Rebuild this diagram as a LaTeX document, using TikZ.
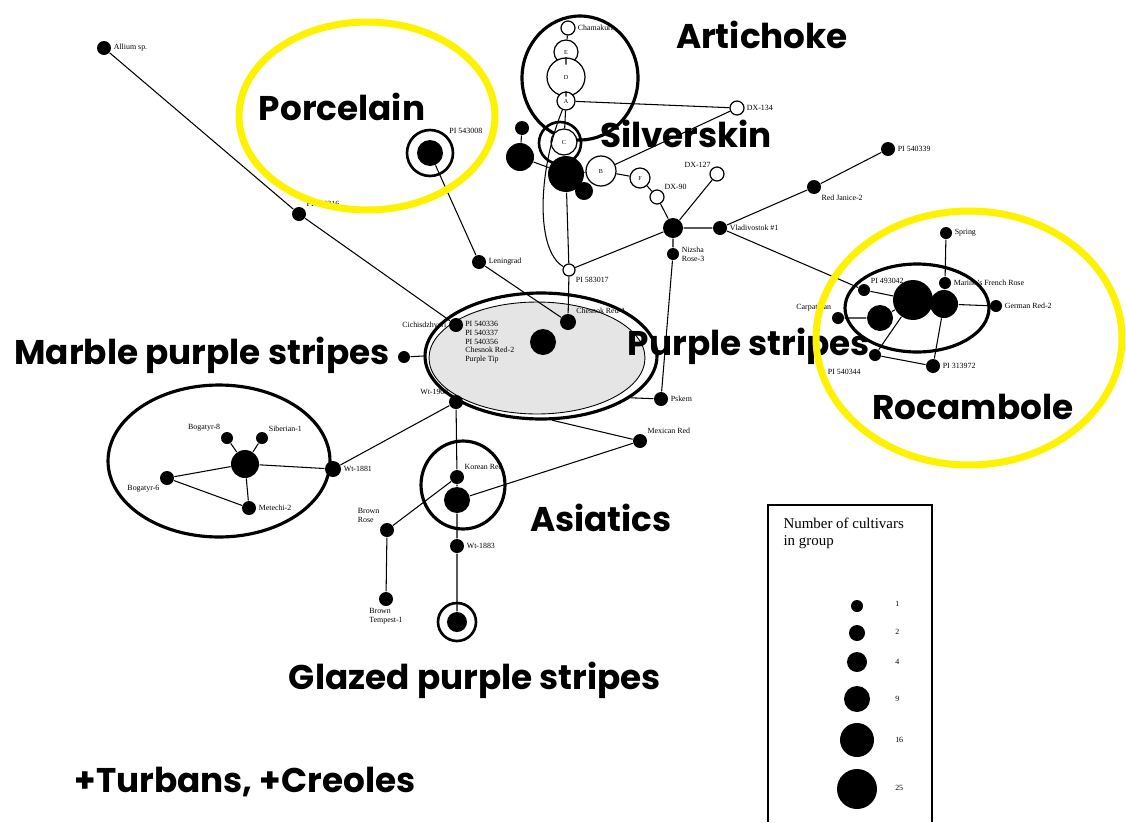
\documentclass[tikz,border=0pt]{standalone}
\usepackage{fontspec}
\setmainfont{Liberation Serif}
\newfontfamily\grpfont{Poppins}
\usetikzlibrary{shapes.geometric,positioning}

\begin{document}
\begin{tikzpicture}[x=0.02cm, y=-0.02cm, line width=0.6pt,
    dot/.style={circle, fill=black, inner sep=0pt, minimum size=#1*0.4mm},
    hol/.style={circle, draw, fill=white, inner sep=0pt, minimum size=#1*0.4mm, line width=0.7pt, font=\fontsize{3.5}{4}\selectfont},
    ring/.style={circle, draw, line width=1.5pt, inner sep=0pt, minimum size=#1*0.4mm},
    lbl/.style={font=\fontsize{4.5}{5}\selectfont, inner sep=1pt, align=left},
    grp/.style={font=\grpfont\bfseries\fontsize{19.5}{19.5}\selectfont, inner sep=1pt},
    hull/.style={draw, ellipse, line width=1.8pt, inner sep=0pt},
    hilite/.style={draw=yellow, ellipse, line width=4pt, inner sep=0pt}]
    \useasboundingbox[fill=white] (0,0) rectangle (1126,822);

    % purple stripes group
    \node[ellipse, draw, line width=1.8pt, fill=white, minimum width=46.4mm, minimum height=25.2mm] (pse) at (541,356) {};
    \node[ellipse, draw, line width=0.5pt, fill=gray!20, minimum width=43.2mm, minimum height=22.4mm] (psi) at (537,358) {};

    % artichoke and silverskin
    \node[hol=7, label={[lbl]right:Chamakuri}] (cham) at (568,28) {};
    \node[hol=12] (nE) at (566,52) {E};
    \node[hol=19] (nD) at (566,77) {D};
    \node[hol=9] (nA) at (566,101) {A};
    \node[hull, minimum width=23.2mm, minimum height=24.8mm] (art) at (580,78) {};
    \node[dot=7] (b1) at (522,128) {};
    \node[dot=14] (b2) at (520,157) {};
    \node[ring=21] (svr) at (560,143) {};
    \node[hol=13] (nC) at (564,142) {C};
    \node[dot=18] (b3) at (566,174) {};
    \node[dot=9] (b4) at (584,191) {};
    \node[hol=15] (nB) at (601,171) {B};
    \node[hol=10] (nF) at (640,178) {F};
    \node[hol=7, label={[lbl]above right:DX-90}] (dx90) at (657,197) {};
    \node[hol=7, label={[lbl,label distance=-1pt]above left:DX-127}] (dx127) at (717,174) {};
    \node[hol=7, label={[lbl]right:DX-134}] (dx134) at (737,108) {};
    \node[hol=6, label={[lbl]below right:PI 583017}] (pi017) at (569,270) {};
    \node[dot=10] (hub) at (673,228) {};
    \node[dot=6, label={[lbl]right:{Nizsha\\Rose-3}}] (nizsha) at (673,254) {};
    \node[dot=7, label={[lbl]right:Vladivostok \#1}] (vlad) at (720,228) {};
    \node[dot=7, label={[lbl]below right:Red Janice-2}] (rjan) at (814,187) {};
    \node[dot=7, label={[lbl]right:PI 540339}] (pi339) at (888,149) {};

    % porcelain
    \node[dot=13] (porc) at (430,153) {};
    \node[ring=23, label={[lbl]above right:PI 543008}] (porcr) at (430,153) {};
    \node[dot=7, label={[lbl]right:Leningrad}] (lenin) at (479,262) {};
    \node[dot=8, label={[lbl]above right:Chesnok Red-1}] (ches1) at (568,322) {};
    \node[dot=7, label={[lbl]right:Allium sp.}] (allium) at (104,48) {};
    \node[dot=7, label={[lbl]above right:PI 540316}] (pi316) at (299,214) {};

    % purple stripes members
    \node[dot=7, label={[lbl]left:Cichisdzhveri}] (pi336) at (456,325) {};
    \node[lbl, anchor=north west] (pslist) at (463,319) {PI 540336\\PI 540337\\PI 540356\\Chesnok Red-2\\Purple Tip};
    \node[dot=13] (pcen) at (543,342) {};
    \node[dot=6] (marb) at (404,357) {};
    \node[dot=7, label={[lbl]right:Pskem}] (pskem) at (661,399) {};
    \node[dot=7, label={[lbl]above left:Wt-1903}] (wt1903) at (456,402) {};
    \node[dot=7, label={[lbl]above right:Mexican Red}] (mex) at (640,441) {};

    % asiatics and glazed
    \node[hull, minimum width=16.8mm, minimum height=17.6mm] (asi) at (463,485) {};
    \node[dot=7, label={[lbl]above right:Korean Red}] (korean) at (457,477) {};
    \node[dot=13] (asibig) at (457,500) {};
    \node[dot=7, label={[lbl]right:Wt-1883}] (wt1883) at (457,546) {};
    \node[dot=10] (glz) at (457,622) {};
    \node[ring=19] (glzr) at (457,622) {};
    \node[dot=7, label={[lbl]above left:{Brown\\Rose}}] (brose) at (387,530) {};
    \node[dot=7, label={[lbl]below:{Brown\\Tempest-1}}] (btemp) at (386,599) {};

    % marble purple stripes
    \node[hull, minimum width=44.4mm, minimum height=30.4mm] (mpe) at (219,461) {};
    \node[dot=14] (mbig) at (245,464) {};
    \node[dot=6, label={[lbl]above left:Bogatyr-8}] (bog8) at (227,438) {};
    \node[dot=6, label={[lbl]above right:Siberian-1}] (sib) at (262,438) {};
    \node[dot=7, label={[lbl]below left:Bogatyr-6}] (bog6) at (167,478) {};
    \node[dot=7, label={[lbl]right:Metechi-2}] (met) at (249,508) {};
    \node[dot=8, label={[lbl]right:Wt-1881}] (wt1881) at (333,469) {};

    % rocambole
    \node[hull, minimum width=28.8mm, minimum height=17.6mm] (roc) at (917,308) {};
    \node[dot=20] (rbig) at (913,300) {};
    \node[dot=14] (r2) at (944,304) {};
    \node[dot=13] (r3) at (880,318) {};
    \node[dot=6, label={[lbl]above right:PI 493042}] (pi342) at (864,290) {};
    \node[dot=6, label={[lbl]right:Marino's French Rose}] (marino) at (945,283) {};
    \node[dot=6, label={[lbl]right:Spring}] (spring) at (946,233) {};
    \node[dot=6, label={[lbl]right:German Red-2}] (german) at (996,306) {};
    \node[dot=6, label={[lbl]above left:Carpathian}] (carp) at (838,318) {};
    \node[dot=6, label={[lbl,label distance=6pt]below left:PI 540344}] (pi344) at (875,355) {};
    \node[dot=7, label={[lbl]right:PI 313972}] (pi972) at (933,366) {};

    \draw (cham) -- (nE) -- (nD) -- (nA) -- (nC);
    \draw (nA) -- (dx134);
    \draw (nB) -- (dx134);
    \draw (nA) .. controls (538,170) and (535,250) .. (pi017);
    \draw (b1) -- (b2) -- (b3) -- (nB) -- (nF) -- (dx90) -- (hub);
    \draw (dx127) -- (hub);
    \draw (b3) -- (pi017) -- (ches1);
    \draw (hub) -- (pi017);
    \draw (hub) -- (vlad) -- (rjan) -- (pi339);
    \draw (hub) -- (nizsha) -- (pskem);
    \draw (porc) -- (lenin) -- (ches1);
    \draw (allium) -- (pi316) -- (pi336);
    \draw (marb) -- (pse.180);
    \draw (pskem) -- (pse.-25);
    \draw (mex) -- (pse.-80);
    \draw (wt1903) -- (korean) -- (asibig) -- (wt1883) -- (glz);
    \draw (mex) -- (asibig);
    \draw (brose) -- (korean);
    \draw (brose) -- (btemp);
    \draw (wt1903) -- (wt1881) -- (mbig);
    \draw (mbig) -- (bog8);
    \draw (mbig) -- (sib);
    \draw (mbig) -- (bog6) -- (met) -- (mbig);
    \draw (vlad) -- (pi342) -- (rbig) -- (r2) -- (german);
    \draw (spring) -- (marino) -- (r2) -- (pi972);
    \draw (rbig) -- (pi344) -- (pi972);
    \draw (carp) -- (r3) -- (rbig);

    % group names
    \node[grp] (tart) at (762,35) {Artichoke};
    \node[grp] (tporc) at (342,107) {Porcelain};
    \node[grp] (tsil) at (686,134) {Silverskin};
    \node[grp] (tpur) at (749,346) {Purple stripes};
    \node[grp] (tmar) at (202,355) {Marble purple stripes};
    \node[grp] (troc) at (973,407) {Rocambole};
    \node[grp] (tasi) at (601,518) {Asiatics};
    \node[grp] (tglz) at (475,680) {Glazed purple stripes};
    \node[grp] (tturb) at (245,782) {+Turbans, +Creoles};

    \node[hilite, minimum width=51.2mm, minimum height=37.6mm] (yporc) at (367,116) {};
    \node[hilite, minimum width=61.2mm, minimum height=50.8mm] (yroc) at (969,338) {};

    % legend
    \draw[line width=0.8pt] (768,822) -- (768,505) -- (932,505) -- (932,822);
    \node[anchor=north west, inner sep=0pt, align=left, font=\fontsize{8.5}{10}\selectfont] (legt) at (783,517) {Number of cultivars\\in group};
    \node[dot=6] (l1) at (857,606) {};
    \node[dot=8] (l2) at (857,633) {};
    \node[dot=10] (l4) at (857,662) {};
    \node[dot=13] (l9) at (857,699) {};
    \node[dot=17] (l16) at (857,740) {};
    \node[dot=20] (l25) at (857,789) {};
    \node[lbl, anchor=west] (n1) at (893,604) {1};
    \node[lbl, anchor=west] (n2) at (893,632) {2};
    \node[lbl, anchor=west] (n4) at (893,662) {4};
    \node[lbl, anchor=west] (n9) at (893,699) {9};
    \node[lbl, anchor=west] (n16) at (893,740) {16};
    \node[lbl, anchor=west] (n25) at (893,788) {25};
\end{tikzpicture}
\end{document}
